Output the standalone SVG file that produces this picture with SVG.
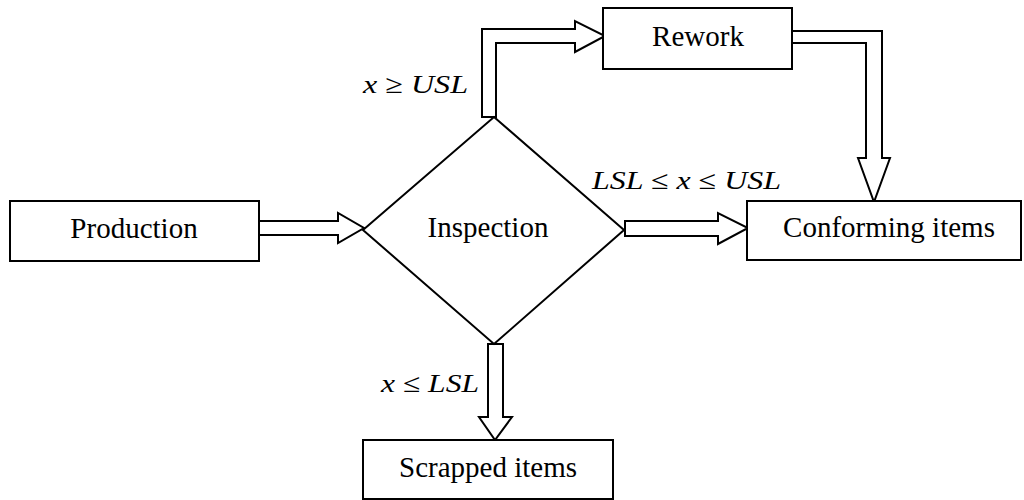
<svg xmlns="http://www.w3.org/2000/svg" width="1024" height="500" viewBox="0 0 1024 500">
<style>
.box{fill:#fff;stroke:#000;stroke-width:2}
.arr{fill:#fff;stroke:#000;stroke-width:2;stroke-linejoin:miter}
.lbl{font-family:"Liberation Serif","Times New Roman",serif;font-size:29px;fill:#000;text-anchor:middle}
.math{font-family:"Liberation Serif","Times New Roman",serif;font-size:26px;font-style:italic;fill:#000}
.op{font-style:normal}
</style>
<rect width="1024" height="500" fill="#fff"/>
<g id="connectors">
<polygon class="arr" points="257,221 338,221 338,213 364,228 338,243 338,235 257,235"/>
<polygon class="arr" points="625,221 718,221 718,213 748,228 718,244 718,236 625,236"/>
<polygon class="arr" points="488,344 503,344 503,417 512,417 495,440 479,417 488,417"/>
<polygon class="arr" points="482,117 482,29 575,29 575,21 605,36 575,52 575,43 496,43 496,117"/>
<polygon class="arr" points="792,31 882,31 882,158 890,158 874,202 858,158 866,158 866,43 792,43"/>
</g>
<g id="production">
<rect class="box" x="10" y="201" width="249" height="60"/>
<text class="lbl" x="134" y="238">Production</text>
</g>
<g id="inspection">
<polygon class="box" points="494,117 624,230 494,344 363,230"/>
<text class="lbl" x="488" y="237">Inspection</text>
</g>
<g id="rework">
<rect class="box" x="603" y="8" width="189" height="61"/>
<text class="lbl" x="698" y="46">Rework</text>
</g>
<g id="conforming">
<rect class="box" x="747" y="201" width="274" height="59"/>
<text class="lbl" x="889" y="237">Conforming items</text>
</g>
<g id="scrapped">
<rect class="box" x="363" y="440" width="250" height="59"/>
<text class="lbl" x="488" y="477">Scrapped items</text>
</g>
<g id="labels">
<text class="math" x="363" y="93" textLength="105" lengthAdjust="spacingAndGlyphs">x <tspan class="op">≥</tspan> USL</text>
<text class="math" x="592" y="189" textLength="189" lengthAdjust="spacingAndGlyphs">LSL <tspan class="op">≤</tspan> x <tspan class="op">≤</tspan> USL</text>
<text class="math" x="381" y="392" textLength="98" lengthAdjust="spacingAndGlyphs">x <tspan class="op">≤</tspan> LSL</text>
</g>
</svg>
